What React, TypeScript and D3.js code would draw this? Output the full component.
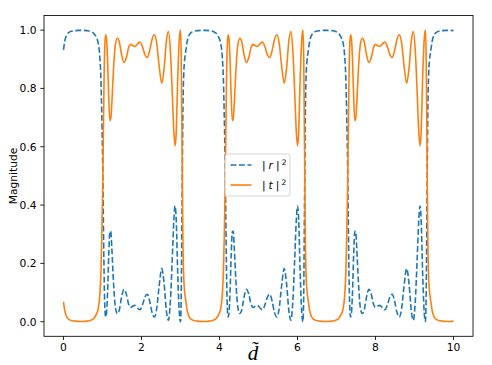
import React from "react";
import * as d3 from "d3";

// normalised thickness d~ (x axis)
const dTilde = [
  0.0, 0.03, 0.06, 0.1, 0.15, 0.2, 0.3, 0.4, 0.5, 0.6,
  0.7, 0.78, 0.84, 0.89, 0.93, 0.96, 0.98, 1.0, 1.02, 1.04,
  1.06, 1.08, 1.1, 1.13, 1.16, 1.19, 1.21, 1.24, 1.28, 1.33,
  1.38, 1.43, 1.49, 1.55, 1.61, 1.67, 1.72, 1.78, 1.83, 1.9,
  1.96, 2.03, 2.09, 2.15, 2.21, 2.27, 2.33, 2.39, 2.45, 2.52,
  2.58, 2.64, 2.69, 2.74, 2.79, 2.83, 2.86, 2.89, 2.93, 2.97,
  3.0, 3.02, 3.04, 3.06, 3.09,
  3.14, 3.17, 3.2, 3.24, 3.29, 3.34, 3.44, 3.54, 3.64, 3.74,
  3.84, 3.92, 3.98, 4.03, 4.07, 4.1, 4.12, 4.14, 4.16, 4.18,
  4.2, 4.22, 4.24, 4.27, 4.3, 4.33, 4.35, 4.38, 4.42, 4.47,
  4.52, 4.57, 4.63, 4.69, 4.75, 4.81, 4.86, 4.92, 4.97, 5.04,
  5.1, 5.17, 5.23, 5.29, 5.35, 5.41, 5.47, 5.53, 5.59, 5.66,
  5.72, 5.78, 5.83, 5.88, 5.93, 5.97, 6.0, 6.03, 6.07, 6.11,
  6.14, 6.16, 6.18, 6.2, 6.23,
  6.28, 6.31, 6.34, 6.38, 6.43, 6.48, 6.58, 6.68, 6.78, 6.88,
  6.98, 7.06, 7.12, 7.17, 7.21, 7.24, 7.26, 7.28, 7.3, 7.32,
  7.34, 7.36, 7.38, 7.41, 7.44, 7.47, 7.49, 7.52, 7.56, 7.61,
  7.66, 7.71, 7.77, 7.83, 7.89, 7.95, 8.0, 8.06, 8.11, 8.18,
  8.24, 8.31, 8.37, 8.43, 8.49, 8.55, 8.61, 8.67, 8.73, 8.8,
  8.86, 8.92, 8.97, 9.02, 9.07, 9.11, 9.14, 9.17, 9.21, 9.25,
  9.28, 9.3, 9.32, 9.34, 9.37,
  9.42, 9.45, 9.48, 9.52, 9.57, 9.62, 9.72, 9.82, 9.92, 10.0,
];

// |t|^2
const tMag = [
  0.068, 0.04, 0.024, 0.013, 0.007, 0.004, 0.002, 0.001, 0.001, 0.002,
  0.005, 0.012, 0.025, 0.045, 0.09, 0.17, 0.28, 0.42, 0.62, 0.83,
  0.95, 0.984, 0.975, 0.9, 0.77, 0.69, 0.69, 0.75, 0.86, 0.95,
  0.972, 0.96, 0.915, 0.889, 0.905, 0.94, 0.951, 0.946, 0.944, 0.953,
  0.959, 0.94, 0.915, 0.906, 0.93, 0.968, 0.984, 0.955, 0.88, 0.818,
  0.87, 0.965, 0.995, 0.93, 0.78, 0.65, 0.603, 0.65, 0.84, 0.97,
  1.0, 0.9, 0.6, 0.3, 0.13,
  0.068, 0.04, 0.024, 0.013, 0.007, 0.004, 0.002, 0.001, 0.001, 0.002,
  0.005, 0.012, 0.025, 0.045, 0.09, 0.17, 0.28, 0.42, 0.62, 0.83,
  0.95, 0.984, 0.975, 0.9, 0.77, 0.69, 0.69, 0.75, 0.86, 0.95,
  0.972, 0.96, 0.915, 0.889, 0.905, 0.94, 0.951, 0.946, 0.944, 0.953,
  0.959, 0.94, 0.915, 0.906, 0.93, 0.968, 0.984, 0.955, 0.88, 0.818,
  0.87, 0.965, 0.995, 0.93, 0.78, 0.65, 0.603, 0.65, 0.84, 0.97,
  1.0, 0.9, 0.6, 0.3, 0.13,
  0.068, 0.04, 0.024, 0.013, 0.007, 0.004, 0.002, 0.001, 0.001, 0.002,
  0.005, 0.012, 0.025, 0.045, 0.09, 0.17, 0.28, 0.42, 0.62, 0.83,
  0.95, 0.984, 0.975, 0.9, 0.77, 0.69, 0.69, 0.75, 0.86, 0.95,
  0.972, 0.96, 0.915, 0.889, 0.905, 0.94, 0.951, 0.946, 0.944, 0.953,
  0.959, 0.94, 0.915, 0.906, 0.93, 0.968, 0.984, 0.955, 0.88, 0.818,
  0.87, 0.965, 0.995, 0.93, 0.78, 0.65, 0.603, 0.65, 0.84, 0.97,
  1.0, 0.9, 0.6, 0.3, 0.13,
  0.068, 0.04, 0.024, 0.013, 0.007, 0.004, 0.002, 0.001, 0.001, 0.002,
];

// |r|^2
const rMag = [
  0.932, 0.96, 0.976, 0.987, 0.993, 0.996, 0.998, 0.999, 0.999, 0.998,
  0.995, 0.988, 0.975, 0.955, 0.91, 0.83, 0.72, 0.58, 0.38, 0.17,
  0.05, 0.016, 0.025, 0.1, 0.23, 0.31, 0.31, 0.25, 0.14, 0.05,
  0.028, 0.04, 0.085, 0.111, 0.095, 0.06, 0.049, 0.054, 0.056, 0.047,
  0.041, 0.06, 0.085, 0.094, 0.07, 0.032, 0.016, 0.045, 0.12, 0.182,
  0.13, 0.035, 0.005, 0.07, 0.22, 0.35, 0.397, 0.35, 0.16, 0.03,
  0.0, 0.1, 0.4, 0.7, 0.87,
  0.932, 0.96, 0.976, 0.987, 0.993, 0.996, 0.998, 0.999, 0.999, 0.998,
  0.995, 0.988, 0.975, 0.955, 0.91, 0.83, 0.72, 0.58, 0.38, 0.17,
  0.05, 0.016, 0.025, 0.1, 0.23, 0.31, 0.31, 0.25, 0.14, 0.05,
  0.028, 0.04, 0.085, 0.111, 0.095, 0.06, 0.049, 0.054, 0.056, 0.047,
  0.041, 0.06, 0.085, 0.094, 0.07, 0.032, 0.016, 0.045, 0.12, 0.182,
  0.13, 0.035, 0.005, 0.07, 0.22, 0.35, 0.397, 0.35, 0.16, 0.03,
  0.0, 0.1, 0.4, 0.7, 0.87,
  0.932, 0.96, 0.976, 0.987, 0.993, 0.996, 0.998, 0.999, 0.999, 0.998,
  0.995, 0.988, 0.975, 0.955, 0.91, 0.83, 0.72, 0.58, 0.38, 0.17,
  0.05, 0.016, 0.025, 0.1, 0.23, 0.31, 0.31, 0.25, 0.14, 0.05,
  0.028, 0.04, 0.085, 0.111, 0.095, 0.06, 0.049, 0.054, 0.056, 0.047,
  0.041, 0.06, 0.085, 0.094, 0.07, 0.032, 0.016, 0.045, 0.12, 0.182,
  0.13, 0.035, 0.005, 0.07, 0.22, 0.35, 0.397, 0.35, 0.16, 0.03,
  0.0, 0.1, 0.4, 0.7, 0.87,
  0.932, 0.96, 0.976, 0.987, 0.993, 0.996, 0.998, 0.999, 0.999, 0.998,
];

const xTicks = [0, 2, 4, 6, 8, 10];
const yTicks = [0, 0.2, 0.4, 0.6, 0.8, 1.0];
const legendSymbols = ["r", "t"];

const BLUE = "#1f77b4";
const ORANGE = "#ff7f0e";
const FONT = "DejaVu Sans, sans-serif";

export default function App() {
  const width = 492;
  const height = 365;
  const left = 44;
  const right = 473;
  const top = 15.5;
  const bottom = 336.3;

  const x = d3.scaleLinear().domain([-0.5, 10.5]).range([left, right]);
  const y = d3.scaleLinear().domain([-0.05, 1.05]).range([bottom, top]);

  const line = d3
    .line<number>()
    .x((_, i) => x(dTilde[i]))
    .y((v) => y(v))
    .curve(d3.curveMonotoneX);

  return (
    <svg
      width={width}
      height={height}
      style={{ position: "absolute", left: 0, top: 0, background: "#fff" }}
    >
      <rect x={0} y={0} width={width} height={height} fill="#fff" />

      <path d={line(rMag) || ""} fill="none" stroke={BLUE} strokeWidth={1.6} strokeDasharray="5.9 2.6" />
      <path d={line(tMag) || ""} fill="none" stroke={ORANGE} strokeWidth={1.6} />

      {/* frame */}
      <rect
        x={left}
        y={top}
        width={right - left}
        height={bottom - top}
        fill="none"
        stroke="#000"
        strokeWidth={0.85}
      />

      {/* x axis */}
      {xTicks.map((t) => (
        <g key={"x" + t}>
          <line x1={x(t)} x2={x(t)} y1={bottom} y2={bottom + 3.7} stroke="#000" strokeWidth={0.85} />
          <text x={x(t)} y={bottom + 15} textAnchor="middle" fontFamily={FONT} fontSize={10.7} fill="#000">
            {t}
          </text>
        </g>
      ))}

      {/* y axis */}
      {yTicks.map((t) => (
        <g key={"y" + t}>
          <line x1={left - 3.7} x2={left} y1={y(t)} y2={y(t)} stroke="#000" strokeWidth={0.85} />
          <text x={left - 7.4} y={y(t) + 3.9} textAnchor="end" fontFamily={FONT} fontSize={10.7} fill="#000">
            {t.toFixed(1)}
          </text>
        </g>
      ))}

      <text
        transform={`translate(16.5,${(top + bottom) / 2}) rotate(-90)`}
        textAnchor="middle"
        fontFamily={FONT}
        fontSize={10.7}
        fill="#000"
      >
        Magnitude
      </text>

      {/* x label: d with tilde */}
      <text x={253} y={360} textAnchor="middle" fontFamily="Liberation Serif, serif" fontStyle="italic" fontSize={21} fill="#000">
        {"d\u0303"}
      </text>

      {/* legend */}
      <g>
        <rect x={225} y={154} width={65} height={42} rx={2.5} fill="#fff" fillOpacity={0.8} stroke="#cccccc" strokeWidth={0.85} />
        {legendSymbols.map((s, i) => {
          const ly = 165 + i * 20;
          return (
            <g key={s}>
              <line
                x1={230.5}
                x2={251.5}
                y1={ly}
                y2={ly}
                stroke={i === 0 ? BLUE : ORANGE}
                strokeWidth={1.6}
                strokeDasharray={i === 0 ? "5.9 2.6" : undefined}
              />
              <text x={262} y={ly + 4} fontFamily={FONT} fontSize={10.7} fill="#000" xmlSpace="preserve">
                <tspan>|</tspan>
                <tspan dx={3} fontStyle="italic">{s}</tspan>
                <tspan dx={3}>|</tspan>
                <tspan dx={2} dy={-4.5} fontSize={7.5}>2</tspan>
              </text>
            </g>
          );
        })}
      </g>
    </svg>
  );
}
